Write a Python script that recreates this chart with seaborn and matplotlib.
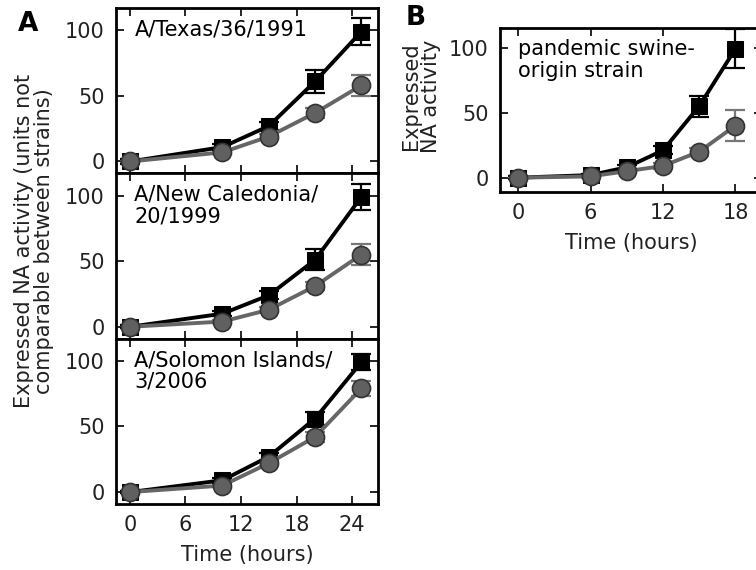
import matplotlib
matplotlib.use("Agg")
import matplotlib.pyplot as plt
import numpy as np
import pandas as pd
import seaborn as sns

# ---- data ----
times_a = [0, 10, 15, 20, 25]
times_b = [0, 6, 9, 12, 15, 18]

strains_a = ["A/Texas/36/1991", "A/New Caledonia/\n20/1999", "A/Solomon Islands/\n3/2006"]
strain_b = "pandemic swine-\norigin strain"

texas_sq = [0, 11, 27, 61, 99]
texas_sq_err = [2, 2, 3, 9, 10]
texas_ci = [0, 7, 19, 37, 58]
texas_ci_err = [1, 1, 2, 4, 8]

caledonia_sq = [0, 10, 24, 51, 99]
caledonia_sq_err = [1, 2, 3, 8, 10]
caledonia_ci = [0, 4, 13, 31, 55]
caledonia_ci_err = [1, 1, 2, 3, 8]

solomon_sq = [0, 9, 27, 56, 99]
solomon_sq_err = [1, 2, 3, 5, 6]
solomon_ci = [0, 5, 22, 42, 79]
solomon_ci_err = [1, 1, 2, 4, 6]

swine_sq = [0, 2, 8, 21, 55, 99]
swine_sq_err = [1, 1, 2, 3, 8, 15]
swine_ci = [0, 1, 5, 9, 20, 40]
swine_ci_err = [1, 1, 1, 2, 3, 12]

SQ_COLOR = "black"
CI_COLOR = "#666666"
FS = 15


def long_frame(times, sq, sq_err, ci, ci_err):
    rows = []
    for t, v, e in zip(times, sq, sq_err):
        rows.append({"time": t, "value": v, "err": e, "series": "sq"})
    for t, v, e in zip(times, ci, ci_err):
        rows.append({"time": t, "value": v, "err": e, "series": "ci"})
    return pd.DataFrame(rows)


def draw_panel(ax, df, label):
    for series, color, z in [("ci", "#777777", 2), ("sq", SQ_COLOR, 3)]:
        sub = df[df["series"] == series]
        ax.errorbar(sub["time"], sub["value"], yerr=sub["err"], fmt="none",
                    ecolor=color, elinewidth=1.6, capsize=7, capthick=1.6, zorder=z)
    sns.lineplot(data=df[df["series"] == "sq"], x="time", y="value", ax=ax,
                 color=SQ_COLOR, linewidth=2.8, marker="s", markersize=12,
                 markerfacecolor="black", markeredgecolor="black", zorder=3,
                 legend=False)
    sns.lineplot(data=df[df["series"] == "ci"], x="time", y="value", ax=ax,
                 color=CI_COLOR, linewidth=2.8, marker="o", markersize=13,
                 markerfacecolor="#606060", markeredgecolor="#333333",
                 markeredgewidth=1.2, zorder=4, legend=False)
    ax.text(0.07, 0.93, label, transform=ax.transAxes, va="top", ha="left",
            fontsize=FS, linespacing=1.1, color="black")
    ax.set_xlabel("")
    ax.set_ylabel("")
    ax.set_yticks([0, 50, 100])
    ax.tick_params(direction="in", top=True, right=True, length=6, width=1.2,
                   labelsize=FS, pad=8, colors="black", labelcolor="#222222")
    for sp in ax.spines.values():
        sp.set_linewidth(2)
        sp.set_color("black")
        sp.set_visible(True)


sns.set_theme(style="ticks")
plt.rcParams["font.family"] = ["DejaVu Sans"]

fig = plt.figure(figsize=(7.56, 5.70), dpi=100)

W = 756.0
H = 570.0
a_left = 116 / W
a_width = 262 / W
panel_h = 165.3
a_top = 8.0

frames_a = [
    long_frame(times_a, texas_sq, texas_sq_err, texas_ci, texas_ci_err),
    long_frame(times_a, caledonia_sq, caledonia_sq_err, caledonia_ci, caledonia_ci_err),
    long_frame(times_a, solomon_sq, solomon_sq_err, solomon_ci, solomon_ci_err),
]

axes_a = []
for i, (df, name) in enumerate(zip(frames_a, strains_a)):
    top = a_top + i * panel_h
    ax = fig.add_axes([a_left, 1 - (top + panel_h) / H, a_width, panel_h / H])
    draw_panel(ax, df, name)
    ax.set_xlim(-1.5, 26.8)
    ax.set_ylim(-9, 117)
    ax.set_xticks([0, 6, 12, 18, 24])
    if i < 2:
        ax.tick_params(labelbottom=False)
    axes_a.append(ax)

axes_a[-1].set_xlabel("Time (hours)", fontsize=FS, labelpad=7, color="#222222")
fig.text(34 / W, 1 - 241 / H, "Expressed NA activity (units not\ncomparable between strains)",
         rotation=90, ha="center", va="center", fontsize=FS, linespacing=1.05,
         color="#222222")
fig.text(28 / W, 1 - 24 / H, "A", fontsize=19, fontweight="bold", ha="center",
         va="center", color="black")

# panel B
axb = fig.add_axes([500 / W, 1 - 192 / H, 262 / W, 164 / H])
df_b = long_frame(times_b, swine_sq, swine_sq_err, swine_ci, swine_ci_err)
draw_panel(axb, df_b, strain_b)
axb.set_xlim(-1.5, 20.2)
axb.set_ylim(-11, 115)
axb.set_xticks([0, 6, 12, 18])
axb.set_xlabel("Time (hours)", fontsize=FS, labelpad=7, color="#222222")
fig.text(421 / W, 1 - 96 / H, "Expressed\nNA activity", rotation=90, ha="center",
         va="center", fontsize=FS, linespacing=1.05, color="#222222")
fig.text(416 / W, 1 - 18 / H, "B", fontsize=19, fontweight="bold", ha="center",
         va="center", color="black")

fig.savefig("out.png", dpi=100)
